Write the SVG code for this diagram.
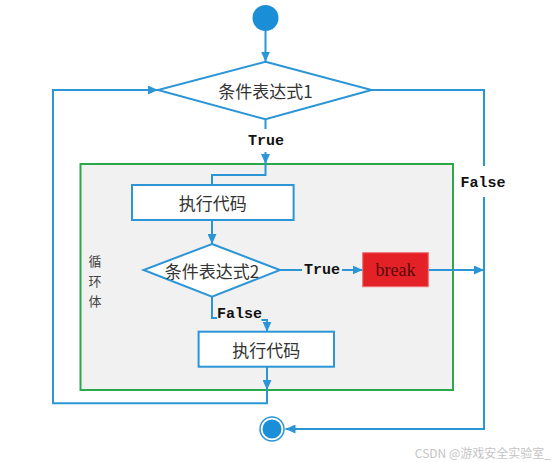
<svg xmlns="http://www.w3.org/2000/svg" width="556" height="462" viewBox="0 0 556 462">
<defs>
<marker id="arr" markerUnits="userSpaceOnUse" markerWidth="10" markerHeight="9" refX="10" refY="4.5" orient="auto">
<path d="M0,0 L10,4.5 L0,9 Z" fill="#2b95d6"/>
</marker>
<style>
.ln{fill:none;stroke:#2b95d6;stroke-width:2}
.nd{fill:#fff;stroke:#2b95d6;stroke-width:2}
.cn{font-family:"Noto Sans CJK SC","Noto Sans",sans-serif;font-size:17px;fill:#333;text-anchor:middle;dominant-baseline:central}
.lb{font-family:"Liberation Mono","DejaVu Sans Mono",monospace;font-size:15px;font-weight:bold;fill:#111;text-anchor:middle;dominant-baseline:central}
.vt{font-family:"Noto Sans CJK SC",sans-serif;font-size:13px;fill:#444;text-anchor:middle;dominant-baseline:central}
</style>
</defs>
<rect width="556" height="462" fill="#fff"/>
<g id="loop-body">
<rect x="80.5" y="164" width="372.5" height="226" fill="#f1f1f1" stroke="#2aa84a" stroke-width="2"/>
<text class="vt" x="95" y="260">循</text>
<text class="vt" x="95" y="280">环</text>
<text class="vt" x="95" y="300">体</text>
</g>
<g id="connectors">
<line class="ln" x1="265.5" y1="31" x2="265.5" y2="61.7" marker-end="url(#arr)"/>
<line class="ln" x1="265.5" y1="119.3" x2="265.5" y2="129"/>
<text class="lb" x="266" y="141">True</text>
<line class="ln" x1="265.5" y1="152" x2="265.5" y2="164" marker-end="url(#arr)"/>
<polyline class="ln" points="265.5,164 265.5,175 212,175 212,185"/>
<line class="ln" x1="212" y1="220" x2="212" y2="244" marker-end="url(#arr)"/>
<line class="ln" x1="280" y1="270" x2="302" y2="270"/>
<text class="lb" x="322" y="270">True</text>
<line class="ln" x1="342" y1="270" x2="362.7" y2="270" marker-end="url(#arr)"/>
<line class="ln" x1="428.3" y1="270" x2="484" y2="270" marker-end="url(#arr)"/>
<polyline class="ln" points="212,296.7 212,318 217,318"/>
<text class="lb" x="239.5" y="314">False</text>
<polyline class="ln" points="261.5,320 267,320 267,331.7" marker-end="url(#arr)"/>
<line class="ln" x1="267" y1="366.7" x2="267" y2="390" marker-end="url(#arr)"/>
<polyline class="ln" points="267,390 267,403.3 53,403.3 53,90 158,90" marker-end="url(#arr)"/>
<polyline class="ln" points="371.6,90 484,90 484,166"/>
<text class="lb" x="483" y="183">False</text>
<polyline class="ln" points="484,197 484,429 285.5,429" marker-end="url(#arr)"/>
</g>
<g id="start">
<circle cx="265.5" cy="18" r="13" fill="#1a8ed6"/>
</g>
<g id="cond1">
<polygon class="nd" points="265.5,61.7 371.6,90 265.5,119.3 158,90"/>
<text class="cn" x="265.5" y="90">条件表达式1</text>
</g>
<g id="exec1">
<rect class="nd" x="132" y="185" width="161.6" height="35"/>
<text class="cn" x="212.8" y="202.5">执行代码</text>
</g>
<g id="cond2">
<polygon class="nd" points="212,244 280,270 212,296.7 143.6,270"/>
<text class="cn" x="212" y="270">条件表达式2</text>
</g>
<g id="break">
<rect x="362.7" y="252.7" width="65.6" height="34" fill="#e42127" stroke="#f07070" stroke-width="1"/>
<text x="395.5" y="270" font-family="'Liberation Serif',serif" font-size="18" fill="#5a0a0a" text-anchor="middle" dominant-baseline="central">break</text>
</g>
<g id="exec2">
<rect class="nd" x="198.6" y="331.7" width="135.4" height="35"/>
<text class="cn" x="266.3" y="349">执行代码</text>
</g>
<g id="end">
<circle cx="272" cy="429" r="12" fill="#fff" stroke="#2b95d6" stroke-width="1.5"/>
<circle cx="272" cy="429" r="9.5" fill="#1a8ed6"/>
</g>
<text x="551" y="452.7" font-family="'Noto Sans CJK SC','Liberation Sans',sans-serif" font-size="12" fill="#c4c4c4" text-anchor="end" dominant-baseline="central">CSDN @游戏安全实验室_</text>
</svg>
